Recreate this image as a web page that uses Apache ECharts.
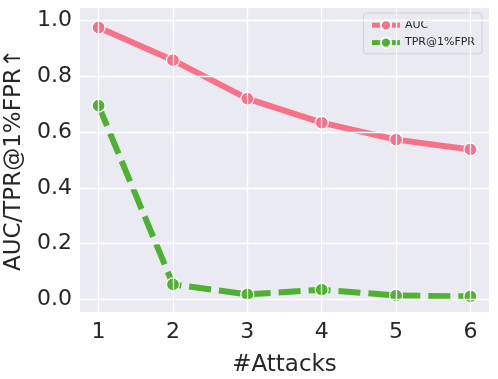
<!DOCTYPE html>
<html>
<head>
<meta charset="utf-8">
<script src="https://cdn.jsdelivr.net/npm/echarts@6/dist/echarts.min.js"></script>
<style>
  html, body { margin: 0; padding: 0; background: #fff; }
  #main { width: 498px; height: 379px; }
</style>
</head>
<body>
<div id="main"></div>
<script>
// data
var attacks = [1, 2, 3, 4, 5, 6];
var auc = [0.975, 0.858, 0.72, 0.634, 0.573, 0.538];
var tpr = [0.695, 0.054, 0.018, 0.035, 0.014, 0.011];
var yTicks = [0.0, 0.2, 0.4, 0.6, 0.8, 1.0];

var pink = "#f77189";
var green = "#4fb131";
var font = "DejaVu Sans";

function pairs(ys) {
  return attacks.map(function (x, i) { return [x, ys[i]]; });
}

var myChart = echarts.init(document.getElementById("main"));

myChart.setOption({
  animation: false,
  textStyle: { fontFamily: font },
  grid: {
    left: 80,
    right: 9,
    top: 8,
    bottom: 67,
    outerBoundsMode: "none",
    containLabel: false,
    show: true,
    backgroundColor: "#eaeaf2",
    borderWidth: 0
  },
  legend: {
    right: 16,
    top: 13,
    orient: "vertical",
    itemWidth: 28,
    itemHeight: 13,
    itemGap: 5,
    padding: [6, 7, 5, 6],
    backgroundColor: "rgba(234,234,242,0.85)",
    borderColor: "#d0d0d8",
    borderWidth: 1,
    borderRadius: 3,
    lineStyle: { width: 5, type: "solid" },
    textStyle: { fontSize: 11, color: "#262626", fontFamily: font },
    data: ["AUC", "TPR@1%FPR"]
  },
  xAxis: {
    type: "value",
    min: 0.75,
    max: 6.25,
    name: "#Attacks",
    nameLocation: "middle",
    nameGap: 42,
    nameTextStyle: { fontSize: 23, color: "#262626" },
    axisLine: { show: false },
    axisTick: { show: false, customValues: attacks },
    splitLine: { show: false },
    axisLabel: {
      fontSize: 22,
      color: "#262626",
      margin: 9,
      customValues: attacks,
      formatter: function (v) { return String(v); }
    }
  },
  yAxis: {
    type: "value",
    min: -0.045,
    max: 1.045,
    name: "AUC/TPR@1%FPR↑",
    nameLocation: "middle",
    nameGap: 54,
    nameTextStyle: { fontSize: 23, color: "#262626" },
    axisLine: { show: false },
    axisTick: { show: false, customValues: yTicks },
    axisLabel: {
      fontSize: 22,
      color: "#262626",
      margin: 8,
      customValues: yTicks,
      formatter: function (v) { return v.toFixed(1); }
    },
    splitLine: { show: false }
  },
  series: [
    {
      name: "AUC",
      type: "line",
      data: pairs(auc),
      symbol: "circle",
      symbolSize: 13,
      lineStyle: { color: pink, width: 6 },
      itemStyle: { color: pink, borderColor: "#fff", borderWidth: 1.2 },
      z: 3
    },
    {
      name: "TPR@1%FPR",
      type: "line",
      data: pairs(tpr),
      symbol: "circle",
      symbolSize: 13,
      lineStyle: { color: green, width: 6, type: [22, 8] },
      itemStyle: { color: green, borderColor: "#fff", borderWidth: 1.2 },
      z: 4
    },
    {
      // white grid lines at the tick positions
      type: "line",
      data: [],
      silent: true,
      markLine: {
        symbol: "none",
        silent: true,
        label: { show: false },
        lineStyle: { color: "#fff", width: 1.3, type: "solid" },
        data: yTicks.map(function (v) { return { yAxis: v }; })
          .concat(attacks.map(function (v) { return { xAxis: v }; }))
      },
      z: 1
    }
  ]
});
</script>
</body>
</html>
